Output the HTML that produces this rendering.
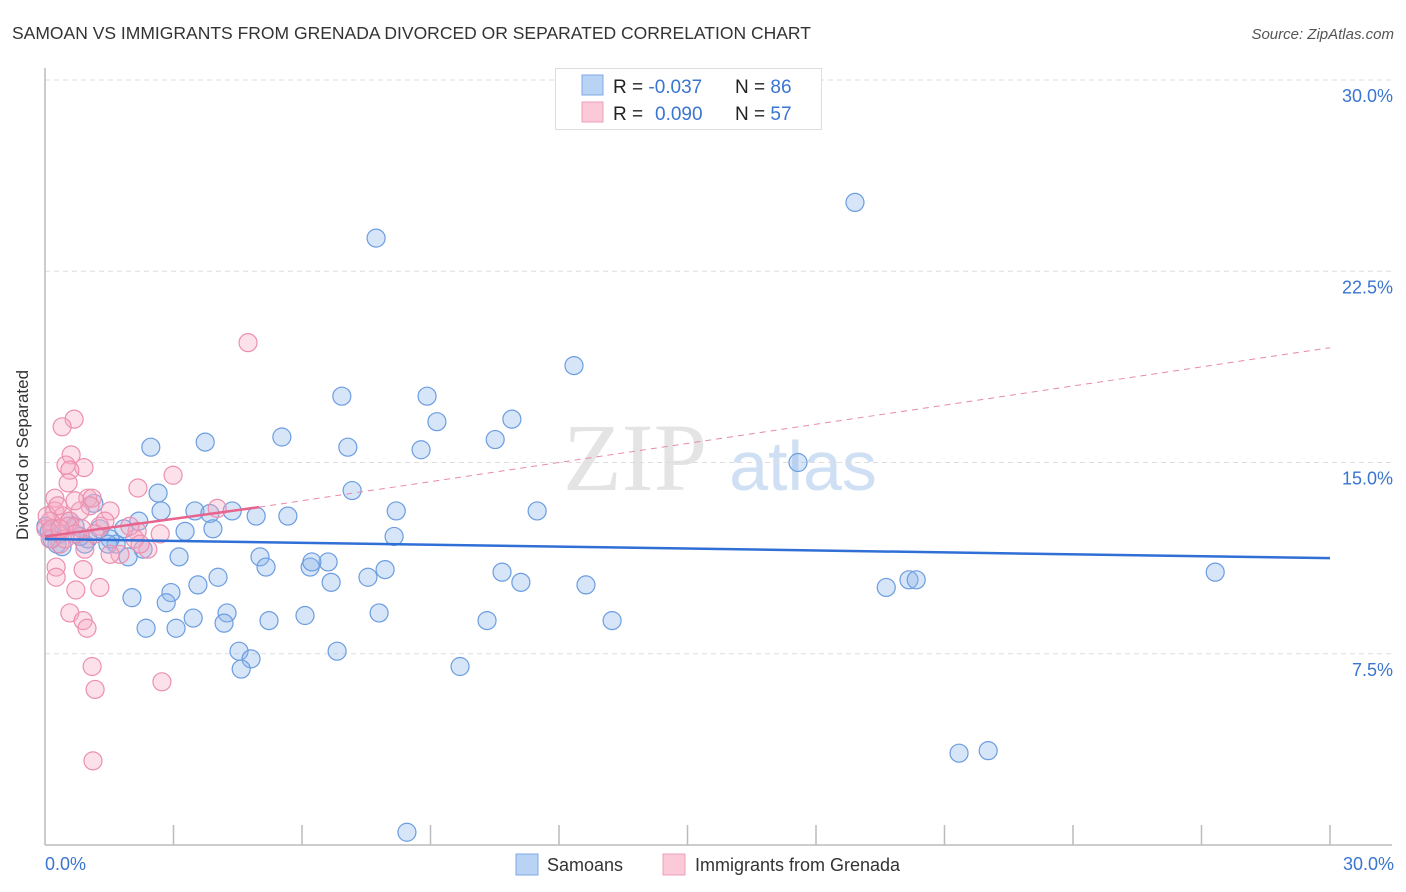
<!DOCTYPE html>
<html><head><meta charset="utf-8"><style>
body{margin:0;background:#fff;font-family:"Liberation Sans",sans-serif;}
svg{display:block}
</style></head><body>
<svg id="chart" width="1406" height="892" xmlns="http://www.w3.org/2000/svg">
<text x="12" y="39" font-size="17.5" fill="#333">SAMOAN VS IMMIGRANTS FROM GRENADA DIVORCED OR SEPARATED CORRELATION CHART</text>
<text x="1394" y="39" font-size="15" fill="#555" font-style="italic" text-anchor="end">Source: ZipAtlas.com</text>
<g>
<text x="635" y="490" font-size="96" fill="#e4e4e4" font-family="Liberation Serif,serif" text-anchor="middle">ZIP</text>
<text x="803" y="490" font-size="70" fill="#cfe0f4" text-anchor="middle">atlas</text>
</g>
<g id="grid"></g>
<g id="axes"></g>
<g id="pts"></g>
<g id="trends"></g>
<text x="28" y="455" font-size="17" fill="#333" text-anchor="middle" transform="rotate(-90 28 455)">Divorced or Separated</text>
<text x="45" y="870" font-size="18" fill="#3a75d0">0.0%</text>
<text x="1394" y="870" font-size="18" fill="#3a75d0" text-anchor="end">30.0%</text>
<g>
<rect x="555.5" y="68.5" width="266" height="61" fill="#fff" stroke="#ddd"/>
<rect x="582" y="75" width="21" height="20" fill="#b9d3f5" stroke="#7ea9e6"/>
<rect x="582" y="102" width="21" height="20" fill="#fbc9d7" stroke="#eea0b8"/>
<text x="613" y="93" font-size="19" fill="#222">R = <tspan fill="#3a75d0">-0.037</tspan><tspan x="735">N = </tspan><tspan fill="#3a75d0">86</tspan></text>
<text x="613" y="120" font-size="19" fill="#222">R = <tspan fill="#3a75d0" x="655">0.090</tspan><tspan x="735">N = </tspan><tspan fill="#3a75d0">57</tspan></text>
</g>
<g>
<rect x="516" y="854" width="22" height="21" fill="#b9d3f5" stroke="#7ea9e6"/>
<text x="547" y="871" font-size="18" fill="#333">Samoans</text>
<rect x="663" y="854" width="22" height="21" fill="#fbc9d7" stroke="#eea0b8"/>
<text x="695" y="871" font-size="18" fill="#333">Immigrants from Grenada</text>
</g>
</svg>
<script>
const yTicks=[7.5,15,22.5,30];
const yTickLabels=["7.5%","15.0%","22.5%","30.0%"];
const xTicks=[3,6,9,12,15,18,21,24,27,30];
const samoanX=[18.91,7.73,12.35,6.93,8.92,9.15,10.90,10.51,5.53,3.74,2.47,7.07,8.78,17.58,7.17,2.64,1.14,8.20,11.49,2.71,3.50,3.85,4.37,4.93,5.67,2.19,1.28,1.84,3.92,3.27,8.15,0.28,0.93,1.66,2.29,1.94,5.02,3.13,5.16,6.19,6.61,6.23,7.94,10.67,27.32,4.04,7.54,6.68,11.11,12.63,3.57,2.94,20.17,20.34,19.64,2.03,2.83,4.25,7.80,6.07,3.46,10.32,13.24,4.18,5.23,2.36,3.06,6.82,4.53,4.81,9.69,4.58,21.34,22.02,8.45,0.58,0.70,0.16,0.35,1.52,0.02,0.40,1.00,1.47,0.82,0.10];
const samoanY=[25.2,23.8,18.8,17.6,17.6,16.6,16.7,15.9,16.0,15.8,15.6,15.6,15.5,15.0,13.9,13.8,13.4,13.1,13.1,13.1,13.1,13.0,13.1,12.9,12.9,12.7,12.4,12.4,12.4,12.3,12.1,11.8,11.8,11.8,11.6,11.3,11.3,11.3,10.9,10.9,11.1,11.1,10.8,10.7,10.7,10.5,10.5,10.3,10.3,10.2,10.2,9.9,10.4,10.4,10.1,9.7,9.5,9.1,9.1,9.0,8.9,8.8,8.8,8.7,8.8,8.5,8.5,7.6,7.6,7.3,7.0,6.9,3.6,3.7,0.5,12.7,12.5,12.0,12.2,12.0,12.5,11.7,12.0,11.8,12.1,12.3];
const grenadaX=[4.74,0.68,0.40,0.61,0.49,0.91,0.58,2.99,2.17,0.54,0.23,1.00,1.10,1.52,4.02,0.23,0.42,1.05,0.12,0.58,0.82,1.28,2.15,0.02,0.12,0.35,0.54,0.86,1.75,2.40,2.10,0.26,0.89,0.26,0.72,1.28,0.58,0.89,0.98,1.10,1.17,2.73,1.12,0.05,0.16,0.70,1.17,1.40,2.69,0.30,0.47,0.93,1.52,1.98,0.70,0.35,2.22];
const grenadaY=[19.7,16.7,16.4,15.3,14.9,14.8,14.7,14.5,14.0,14.2,13.6,13.6,13.6,13.1,13.2,13.1,12.9,13.3,12.7,12.7,13.1,12.5,12.3,12.4,12.0,11.8,12.5,12.4,11.4,11.6,12.0,10.9,10.8,10.5,10.0,10.1,9.1,8.8,8.5,7.0,6.1,6.4,3.3,12.9,12.4,12.2,12.2,12.7,12.2,13.3,12.0,11.6,11.4,12.5,13.5,12.4,11.8];
const samoanTrend=[[0,12.0],[30,11.25]];
const grenadaTrend=[[0,12.1],[5,13.25],[30,19.5]];

const NS="http://www.w3.org/2000/svg";
const X0=45,X1=1330,Y0=845,YTOP=80;
function sx(v){return X0+(X1-X0)*v/30;}
function sy(v){return Y0-(Y0-YTOP)*v/30;}
function mk(tag,attrs,parent){const e=document.createElementNS(NS,tag);for(const k in attrs)e.setAttribute(k,attrs[k]);parent.appendChild(e);return e;}
const grid=document.getElementById('grid'),axes=document.getElementById('axes'),pts=document.getElementById('pts'),tr=document.getElementById('trends');
yTicks.forEach((t,i)=>{
  const l=mk('line',{x1:X0,x2:1392,y1:sy(t),y2:sy(t),stroke:'#ddd','stroke-dasharray':'5,4'},grid);
  
  
  const tx=mk('text',{x:1393,y:sy(t)+22,'font-size':18,fill:'#3a75d0','text-anchor':'end'},grid);
  tx.textContent=yTickLabels[i];
  
  
});
const ya=mk('line',{x1:X0,x2:X0,y1:68,y2:Y0,stroke:'#bbb','stroke-width':1.5},axes);


const xa=mk('line',{x1:X0,x2:1392,y1:Y0,y2:Y0,stroke:'#bbb','stroke-width':1.5},axes);


xTicks.forEach(t=>{
  const l=mk('line',{x1:sx(t),x2:sx(t),y1:Y0-20,y2:Y0,stroke:'#bbb','stroke-width':1.5},axes);
  
  
});
samoanX.forEach((x,i)=>{
  const c=mk('circle',{cx:sx(x),cy:sy(samoanY[i]),r:9,fill:'rgba(140,180,235,0.35)',stroke:'#6b9de0','stroke-width':1.2},pts);
  
  
});
grenadaX.forEach((x,i)=>{
  const c=mk('circle',{cx:sx(x),cy:sy(grenadaY[i]),r:9,fill:'rgba(245,170,195,0.35)',stroke:'#ec8fae','stroke-width':1.2},pts);
  
  
});
const bl=mk('line',{x1:sx(samoanTrend[0][0]),y1:sy(samoanTrend[0][1]),x2:sx(samoanTrend[1][0]),y2:sy(samoanTrend[1][1]),stroke:'#2f6fd6','stroke-width':2.5},tr);


const pl=mk('line',{x1:sx(grenadaTrend[0][0]),y1:sy(grenadaTrend[0][1]),x2:sx(grenadaTrend[1][0]),y2:sy(grenadaTrend[1][1]),stroke:'#e6648e','stroke-width':2.5},tr);


const pd=mk('line',{x1:sx(grenadaTrend[1][0]),y1:sy(grenadaTrend[1][1]),x2:sx(grenadaTrend[2][0]),y2:sy(grenadaTrend[2][1]),stroke:'#e88aa8','stroke-width':1,'stroke-dasharray':'6,5'},tr);


</script>
</body></html>
